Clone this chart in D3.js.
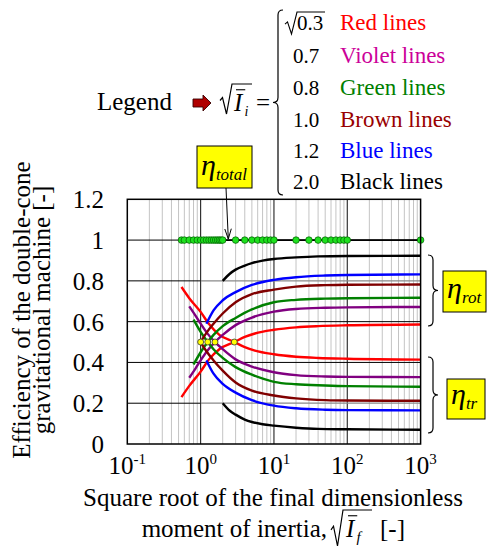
<!DOCTYPE html>
<meta charset="utf-8">
<style>
body { margin: 0; background: #fff; }
svg, svg text { font-family: "Liberation Serif", "Times New Roman", "DejaVu Serif", serif; }
</style>
<body>
<svg width="487" height="547" font-family="Liberation Serif, Times New Roman, DejaVu Serif, serif"></svg>
<script src="https://d3js.org/d3.v7.min.js"></script>
<script>

// efficiency curves: [sqrt(If), eta]
var redRot = [[0.548,0.23],[0.7,0.285],[1.0,0.355],[1.3,0.415],[1.8,0.465],[2.88,0.5],[4,0.525],[5.5,0.542],[10,0.56],[20,0.572],[40,0.578],[100,0.582],[1000,0.586]];
var redTr = [[0.548,0.77],[0.7,0.715],[1.0,0.648],[1.3,0.588],[1.8,0.535],[2.88,0.5],[4,0.475],[5.5,0.458],[10,0.44],[20,0.428],[40,0.422],[100,0.418],[1000,0.414]];
var violetRot = [[0.7,0.325],[0.85,0.37],[1.0,0.41],[1.25,0.46],[1.57,0.5],[2,0.535],[3,0.583],[5,0.62],[10,0.649],[20,0.662],[50,0.668],[100,0.67],[1000,0.672]];
var violetTr = [[0.7,0.675],[0.85,0.63],[1.0,0.59],[1.25,0.54],[1.57,0.5],[2,0.465],[3,0.415],[5,0.38],[10,0.352],[20,0.338],[50,0.331],[100,0.329],[1000,0.328]];
var greenRot = [[0.8,0.39],[1.0,0.45],[1.25,0.5],[1.5,0.535],[2,0.578],[3,0.618],[5,0.66],[10,0.695],[20,0.707],[50,0.713],[100,0.715],[1000,0.717]];
var greenTr = [[0.8,0.61],[1.0,0.55],[1.25,0.5],[1.5,0.465],[2,0.422],[3,0.377],[5,0.34],[10,0.305],[20,0.293],[50,0.287],[100,0.284],[1000,0.281]];
var brownRot = [[1.0,0.5],[1.2,0.545],[1.5,0.59],[2,0.64],[3,0.695],[5,0.735],[10,0.757],[20,0.772],[50,0.779],[100,0.781],[1000,0.782]];
var brownTr = [[1.0,0.5],[1.2,0.455],[1.5,0.41],[2,0.36],[3,0.302],[5,0.262],[10,0.238],[20,0.224],[50,0.215],[100,0.213],[1000,0.212]];
var blueRot = [[1.2,0.59],[1.5,0.655],[2,0.705],[3,0.745],[5,0.78],[10,0.805],[20,0.818],[50,0.826],[100,0.829],[1000,0.832]];
var blueTr = [[1.2,0.41],[1.5,0.345],[2,0.295],[3,0.252],[5,0.215],[10,0.188],[20,0.175],[50,0.168],[100,0.166],[1000,0.165]];
var blackRot = [[2.0,0.8],[2.5,0.835],[3,0.855],[4,0.875],[5,0.887],[7,0.899],[10,0.907],[20,0.915],[40,0.92],[100,0.922],[1000,0.923]];
var blackTr = [[2.0,0.2],[2.5,0.163],[3,0.144],[4,0.12],[5,0.108],[7,0.097],[10,0.09],[20,0.08],[40,0.074],[100,0.072],[1000,0.07]];

var totalX = [0.548,0.6,0.7,0.8,0.9,1.0,1.1,1.2,1.3,1.4,1.5,1.6,1.7,1.8,1.9,2.0,3,4,5,6,7,8,9,10,20,30,40,50,60,70,80,90,100,1000];
var totalEta = [1,1,1,1,1,1,1,1,1,1,1,1,1,1,1,1,1,1,1,1,1,1,1,1,1,1,1,1,1,1,1,1,1,1];
var crossX = [1.0, 1.25, 1.57, 2.88];
var crossEta = [0.5, 0.5, 0.5, 0.5];

var yTicks = [0, 0.2, 0.4, 0.6, 0.8, 1, 1.2];
var yTickLabels = ["0", "0.2", "0.4", "0.6", "0.8", "1", "1.2"];
var xTicks = [0.1, 1, 10, 100, 1000];
var xTickExp = ["-1", "0", "1", "2", "3"];

var legendValues = ["0.3", "0.7", "0.8", "1.0", "1.2", "2.0"];
var legendNames = ["Red lines", "Violet lines", "Green lines", "Brown lines", "Blue lines", "Black lines"];
var legendColors = ["#ff0000", "#cc0099", "#008000", "#990000", "#0000ff", "#000000"];
var lineColors = ["#ff0000", "#800080", "#008000", "#800000", "#0000ff", "#000000"];

var series = [
  [redRot, redTr], [violetRot, violetTr], [greenRot, greenTr],
  [brownRot, brownTr], [blueRot, blueTr], [blackRot, blackTr]
];

var FONT = "'Liberation Serif', 'Times New Roman', 'DejaVu Serif', serif";
var svg = d3.select("svg").style("font-family", FONT);

var x = d3.scaleLog().domain([0.1, 1000]).range([127.3, 420.6]);
var y = d3.scaleLinear().domain([0, 1.2]).range([444, 199.3]);

// grid
var minor = [];
[0.1, 1, 10, 100].forEach(function(d) {
  for (var k = 2; k <= 9; k++) minor.push(k * d);
});
var grid = svg.append("g");
grid.selectAll(".minor").data(minor).enter().append("line")
    .attr("x1", function(d) { return x(d); }).attr("x2", function(d) { return x(d); })
    .attr("y1", y(0)).attr("y2", y(1.2))
    .attr("stroke", "#c4c4c4").attr("stroke-width", 1);
grid.selectAll(".major").data([1, 10, 100]).enter().append("line")
    .attr("x1", function(d) { return x(d); }).attr("x2", function(d) { return x(d); })
    .attr("y1", y(0)).attr("y2", y(1.2))
    .attr("stroke", "#222").attr("stroke-width", 1.1);
grid.selectAll(".hgrid").data([0.4, 0.6, 1]).enter().append("line")
    .attr("x1", x(0.1)).attr("x2", x(1000))
    .attr("y1", function(d) { return y(d); }).attr("y2", function(d) { return y(d); })
    .attr("stroke", "#000").attr("stroke-width", 1);
[0.2, 0.8].forEach(function(v) {
  grid.append("line").attr("x1", x(1)).attr("x2", x(1000)).attr("y1", y(v)).attr("y2", y(v))
      .attr("stroke", "#8a8a8a").attr("stroke-width", 1.2);
  grid.append("line").attr("x1", x(0.1)).attr("x2", x(1)).attr("y1", y(v)).attr("y2", y(v))
      .attr("stroke", "#000").attr("stroke-width", 1);
});

// curves
var line = d3.line()
    .x(function(d) { return x(d[0]); })
    .y(function(d) { return y(d[1]); })
    .curve(d3.curveMonotoneX);

series.forEach(function(s, i) {
  s.forEach(function(data) {
    svg.append("path")
        .datum(data)
        .attr("fill", "none")
        .attr("stroke", lineColors[i])
        .attr("stroke-width", 2.4)
        .attr("d", line);
  });
});

// total efficiency
var totalData = totalX.map(function(d, i) { return [d, totalEta[i]]; });
svg.append("path")
    .datum(totalData)
    .attr("fill", "none")
    .attr("stroke", "#000")
    .attr("stroke-width", 1.6)
    .attr("d", d3.line().x(function(d) { return x(d[0]); }).y(function(d) { return y(d[1]); }));
svg.selectAll(".tot").data(totalData).enter().append("circle")
    .attr("cx", function(d) { return x(d[0]); })
    .attr("cy", function(d) { return y(d[1]); })
    .attr("r", 3.3)
    .attr("fill", "#1ee01e")
    .attr("stroke", "#005a00")
    .attr("stroke-width", 0.7);

svg.selectAll(".cross").data(crossX).enter().append("circle")
    .attr("cx", function(d) { return x(d); })
    .attr("cy", function(d, i) { return y(crossEta[i]); })
    .attr("r", 3)
    .attr("fill", "#ffff00")
    .attr("stroke", "#333")
    .attr("stroke-width", 0.8);

// frame
svg.append("rect")
    .attr("x", x(0.1)).attr("y", y(1.2))
    .attr("width", x(1000) - x(0.1)).attr("height", y(0) - y(1.2))
    .attr("fill", "none").attr("stroke", "#000").attr("stroke-width", 1.5);

// axes labels
svg.append("g").selectAll("text").data(yTicks).enter().append("text")
    .attr("x", 104)
    .attr("y", function(d) { return y(d); })
    .attr("dy", "0.36em")
    .attr("text-anchor", "end")
    .attr("font-size", 25)
    .text(function(d, i) { return yTickLabels[i]; });

var xl = svg.append("g").selectAll("text").data(xTicks).enter().append("text")
    .attr("x", function(d) { return x(d); })
    .attr("y", 474)
    .attr("text-anchor", "middle")
    .attr("font-size", 25);
xl.append("tspan").text("10");
xl.append("tspan").attr("font-size", 15).attr("dy", -10).text(function(d, i) { return xTickExp[i]; });

svg.append("text")
    .attr("transform", "translate(30,310) rotate(-90)")
    .attr("text-anchor", "middle").attr("font-size", 25)
    .text("Efficiency of the double-cone");
svg.append("text")
    .attr("transform", "translate(50,310) rotate(-90)")
    .attr("text-anchor", "middle").attr("font-size", 25)
    .text("gravitational machine [-]");

svg.append("text")
    .attr("x", 273).attr("y", 506)
    .attr("text-anchor", "middle").attr("font-size", 25)
    .text("Square root of the final dimensionless");
svg.append("text")
    .attr("x", 327).attr("y", 537)
    .attr("text-anchor", "end").attr("font-size", 25)
    .text("moment of inertia,");

function radical(x0, yTop, yBot, x1) {
  var h = yBot - yTop;
  return "M" + x0 + "," + (yBot - h * 0.45) +
         "L" + (x0 + 2.5) + "," + (yBot - h * 0.55) +
         "L" + (x0 + 6.5) + "," + yBot +
         "L" + (x0 + 12) + "," + yTop +
         "L" + x1 + "," + yTop;
}

function meanI(px, base, size, sub, subSize) {
  svg.append("text").attr("x", px).attr("y", base)
      .attr("font-size", size).attr("font-style", "italic").text("I");
  svg.append("line")
      .attr("x1", px + 2).attr("x2", px + size * 0.45)
      .attr("y1", base - size * 0.85).attr("y2", base - size * 0.85)
      .attr("stroke", "#000").attr("stroke-width", 1.1);
  svg.append("text").attr("x", px + size * 0.42).attr("y", base + subSize * 0.35)
      .attr("font-size", subSize).attr("font-style", "italic").text(sub);
}

svg.append("path").attr("d", radical(331, 510, 546, 372))
    .attr("fill", "none").attr("stroke", "#000").attr("stroke-width", 1.2);
meanI(346, 537, 25, "f", 15);
svg.append("text").attr("x", 380).attr("y", 537).attr("font-size", 25).text("[-]");

// legend
svg.append("text").attr("x", 97).attr("y", 110).attr("font-size", 25).text("Legend");
svg.append("path")
    .attr("d", "M193,99L203,99L203,95L211,103L203,111L203,107L193,107Z")
    .attr("fill", "#b00000").attr("stroke", "#3a0000").attr("stroke-width", 0.9);
svg.append("path").attr("d", radical(220, 84, 114, 252))
    .attr("fill", "none").attr("stroke", "#000").attr("stroke-width", 1.2);
meanI(234, 111, 25, "i", 14);
svg.append("text").attr("x", 256).attr("y", 111).attr("font-size", 25).text("=");

function brace(bx, y1, y2, w) {
  var ym = (y1 + y2) / 2, h = w / 2, r = Math.abs(h);
  return "M" + bx + "," + y1 +
         "Q" + (bx + h) + "," + y1 + " " + (bx + h) + "," + (y1 + r) +
         "L" + (bx + h) + "," + (ym - r) +
         "Q" + (bx + h) + "," + ym + " " + (bx + w) + "," + ym +
         "Q" + (bx + h) + "," + ym + " " + (bx + h) + "," + (ym + r) +
         "L" + (bx + h) + "," + (y2 - r) +
         "Q" + (bx + h) + "," + y2 + " " + bx + "," + y2;
}
svg.append("path").attr("d", brace(283, 10, 195, -10))
    .attr("fill", "none").attr("stroke", "#000").attr("stroke-width", 1.2);

var legendY = [30, 63, 95, 127, 158, 189];
var lg = svg.append("g").selectAll("g").data(legendValues).enter().append("g");
lg.append("text")
    .attr("x", function(d, i) { return i === 0 ? 297 : 293; })
    .attr("y", function(d, i) { return legendY[i]; })
    .attr("font-size", 21)
    .text(function(d) { return d; });
lg.append("text")
    .attr("x", 340)
    .attr("y", function(d, i) { return legendY[i]; })
    .attr("font-size", 23)
    .attr("fill", function(d, i) { return legendColors[i]; })
    .text(function(d, i) { return legendNames[i]; });
svg.append("path").attr("d", radical(285, 12, 34, 325))
    .attr("fill", "none").attr("stroke", "#000").attr("stroke-width", 1.1);

// eta boxes
function etaBox(bx, by, bw, bh, tx, ty, sub) {
  svg.append("rect").attr("x", bx).attr("y", by).attr("width", bw).attr("height", bh)
      .attr("fill", "#ffff00").attr("stroke", "#000").attr("stroke-width", 1);
  var t = svg.append("text").attr("x", tx).attr("y", ty).attr("font-style", "italic");
  t.append("tspan").attr("font-size", 30).text("η");
  t.append("tspan").attr("font-size", 17).attr("dy", 5).text(sub);
}
etaBox(197, 146, 55, 42, 201, 175, "total");
etaBox(443, 271, 43, 41, 447, 298, "rot");
etaBox(447, 379, 38, 40, 451, 404, "tr");

svg.append("path").attr("d", "M226,188L228.3,239")
    .attr("fill", "none").attr("stroke", "#000").attr("stroke-width", 1);
svg.append("path").attr("d", "M224.8,229L228.3,239L231.3,228.7")
    .attr("fill", "none").attr("stroke", "#000").attr("stroke-width", 1);

svg.append("path").attr("d", brace(428, 255, 326, 10))
    .attr("fill", "none").attr("stroke", "#000").attr("stroke-width", 1.2);
svg.append("path").attr("d", brace(428, 357, 433, 10))
    .attr("fill", "none").attr("stroke", "#000").attr("stroke-width", 1.2);

</script>
</body>
